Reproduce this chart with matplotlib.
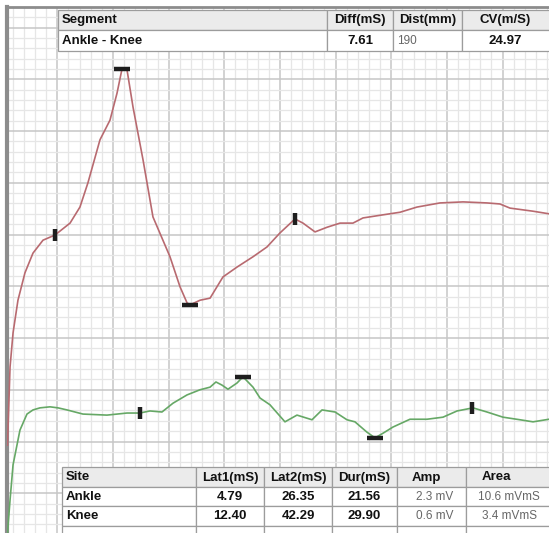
import numpy as np
import matplotlib
matplotlib.use("Agg")
import matplotlib.pyplot as plt
from matplotlib.patches import Rectangle

# ---------------- data (time in ms, amplitude in screen divisions) ----------------
ankle_t = [0.52, 0.75, 1.02, 1.46, 2.09, 2.81, 3.71, 4.79, 6.14, 7.03, 7.75, 8.83, 9.73,
           10.36, 10.81, 11.26, 11.80, 12.70, 13.59, 15.12, 16.02, 16.65, 16.92, 17.82,
           18.72, 19.88, 21.14, 22.58, 23.84, 25.00, 26.35, 27.07, 28.15, 29.23, 30.40,
           31.56, 32.46, 34.26, 35.79, 37.31, 39.38, 41.45, 43.60, 44.76, 45.67, 47.74, 49.17]
ankle_v = [1.93, 3.44, 4.10, 4.73, 5.26, 5.64, 5.89, 5.99, 6.22, 6.53, 7.00, 7.83, 8.21,
           8.73, 9.20, 9.18, 8.46, 7.44, 6.34, 5.57, 4.99, 4.68, 4.64, 4.73,
           4.77, 5.18, 5.37, 5.57, 5.76, 6.03, 6.30, 6.22, 6.05, 6.14, 6.22,
           6.22, 6.32, 6.38, 6.43, 6.53, 6.61, 6.63, 6.61, 6.59, 6.51, 6.45, 6.40]

knee_t = [0.52, 0.75, 1.02, 1.64, 2.27, 2.81, 3.44, 4.34, 5.06, 5.87, 7.30, 9.46, 11.26,
          12.40, 13.32, 14.40, 15.39, 16.65, 17.82, 18.72, 19.25, 19.79, 20.33, 21.14,
          21.68, 22.58, 23.21, 24.10, 25.45, 26.53, 27.88, 28.78, 29.95, 31.02, 31.74,
          32.82, 33.54, 34.26, 35.16, 36.68, 38.21, 39.65, 40.91, 42.34, 43.60, 45.04,
          46.57, 47.74, 49.17]
knee_v = [0.23, 0.87, 1.55, 2.22, 2.53, 2.61, 2.65, 2.67, 2.65, 2.61, 2.53, 2.51, 2.55,
          2.55, 2.59, 2.57, 2.74, 2.90, 3.00, 3.05, 3.15, 3.09, 3.01, 3.13,
          3.25, 3.05, 2.84, 2.71, 2.38, 2.51, 2.42, 2.61, 2.57, 2.42, 2.38,
          2.18, 2.07, 2.16, 2.28, 2.43, 2.43, 2.47, 2.59, 2.65, 2.57, 2.47,
          2.42, 2.38, 2.43]

ankle_lat = [4.79, 26.35]
ankle_peaks = [10.81, 16.92]
knee_lat = [12.40, 42.29]
knee_peaks = [21.68, 33.54]

segment_headers = ["Segment", "Diff(mS)", "Dist(mm)", "CV(m/S)"]
segment_row = ["Ankle - Knee", "7.61", "190", "24.97"]

site_headers = ["Site", "Lat1(mS)", "Lat2(mS)", "Dur(mS)", "Amp", "Area"]
sites = ["Ankle", "Knee"]
lat1 = ["4.79", "12.40"]
lat2 = ["26.35", "42.29"]
dur = ["21.56", "29.90"]
amp = ["2.3 mV", "0.6 mV"]
area = ["10.6 mVmS", "3.4 mVmS"]

# ---------------- figure ----------------
W, H = 549, 533
fig = plt.figure(figsize=(W / 100, H / 100), dpi=100)
fig.patch.set_facecolor("white")

px_per_ms = 11.13
x_zero = 1.7
px_per_div = 51.75
y_ref = 545.0

ax = fig.add_axes([7 / W, 0, (W - 7) / W, (H - 7) / H])
ax.set_xticks(np.arange(0, 50, 5))
ax.set_xticks(np.arange(0, 50, 1), minor=True)
ax.set_yticks(np.arange(0, 11, 1))
ax.set_yticks(np.arange(0, 11, 0.2), minor=True)
ax.set_xlim((7 - x_zero) / px_per_ms, (W - x_zero) / px_per_ms)
ax.set_ylim((y_ref - H) / px_per_div, (y_ref - 7) / px_per_div)
ax.grid(which="minor", color="#e6e6e6", lw=0.9)
ax.grid(which="major", color="#c6c6c6", lw=1.1)
ax.tick_params(which="both", length=0, labelbottom=False, labelleft=False)
ax.set_axisbelow(True)
for s in ["right", "bottom"]:
    ax.spines[s].set_visible(False)
ax.spines["left"].set_color("#8c8c8c")
ax.spines["left"].set_linewidth(3)
ax.spines["top"].set_color("#8c8c8c")
ax.spines["top"].set_linewidth(2)

red = "#b86a70"
green = "#66a866"
ax.plot(ankle_t, ankle_v, color=red, lw=1.2, zorder=3)
ax.plot(knee_t, knee_v, color=green, lw=1.2, zorder=3)

for tt, vv, lats, pks in [(ankle_t, ankle_v, ankle_lat, ankle_peaks),
                          (knee_t, knee_v, knee_lat, knee_peaks)]:
    for t in lats:
        ax.plot(t, np.interp(t, tt, vv), marker="|", ms=9, mew=3.2,
                color="#1e1e1e", zorder=4)
    for t in pks:
        ax.plot(t, np.interp(t, tt, vv), marker="_", ms=12, mew=3.2,
                color="#1e1e1e", zorder=4)

# ---------------- tables (overlay in pixel space) ----------------
ov = fig.add_axes([0, 0, 1, 1])
ov.set_xlim(0, W)
ov.set_ylim(H, 0)
ov.axis("off")
ov.patch.set_alpha(0)

FONT = "Liberation Sans"
edge = "#9c9c9c"
hdr_bg = "#ebebeb"


def cell(x0, x1, y0, y1, fc):
    ov.add_patch(Rectangle((x0, y0), x1 - x0, y1 - y0, facecolor=fc,
                           edgecolor=edge, lw=0.9, zorder=2))


def txt(x, y, s, ha="center", bold=True, size=9.5, color="#111111"):
    ov.text(x, y, s, ha=ha, va="center", fontsize=size, family=FONT,
            fontweight="bold" if bold else "normal", color=color, zorder=3)


# top table
tcols = [58, 327, 393, 462, 560]
trows = [10, 30, 51]
for i in range(4):
    cell(tcols[i], tcols[i + 1], trows[0], trows[1], hdr_bg)
    cell(tcols[i], tcols[i + 1], trows[1], trows[2], "white")
for i, h in enumerate(segment_headers):
    cy = (trows[0] + trows[1]) / 2 + 0.5
    if i == 0:
        txt(tcols[0] + 4, cy, h, ha="left")
    else:
        cx = (tcols[i] + min(tcols[i + 1], W)) / 2
        txt(cx, cy, h)
cy = (trows[1] + trows[2]) / 2
txt(tcols[0] + 4, cy, segment_row[0], ha="left")
txt((tcols[1] + tcols[2]) / 2, cy, segment_row[1])
txt(tcols[2] + 4, cy, segment_row[2], ha="left", bold=False, size=8.5, color="#666666")
txt((tcols[3] + W) / 2, cy, segment_row[3])

# bottom table
bcols = [62, 196, 264, 332, 397, 466, 560]
brows = [467, 487, 506, 526, 545]
for i in range(6):
    cell(bcols[i], bcols[i + 1], brows[0], brows[1], hdr_bg)
    for r in range(1, 4):
        cell(bcols[i], bcols[i + 1], brows[r], brows[r + 1], "white")
hdr_centers = [None, 230, 298, 364, 426, 496]
val_centers = [None, 230, 298, 364, 435, 509]
cy = (brows[0] + brows[1]) / 2 + 0.5
for i, h in enumerate(site_headers):
    if i == 0:
        txt(bcols[0] + 4, cy, h, ha="left")
    else:
        txt(hdr_centers[i], cy, h)
for r in range(len(sites)):
    cy = (brows[r + 1] + brows[r + 2]) / 2
    txt(bcols[0] + 4, cy, sites[r], ha="left")
    txt(val_centers[1], cy, lat1[r])
    txt(val_centers[2], cy, lat2[r])
    txt(val_centers[3], cy, dur[r])
    txt(val_centers[4], cy, amp[r], bold=False, size=8.5, color="#666666")
    txt(val_centers[5], cy, area[r], bold=False, size=8.5, color="#666666")

fig.savefig("out.png", dpi=100)
